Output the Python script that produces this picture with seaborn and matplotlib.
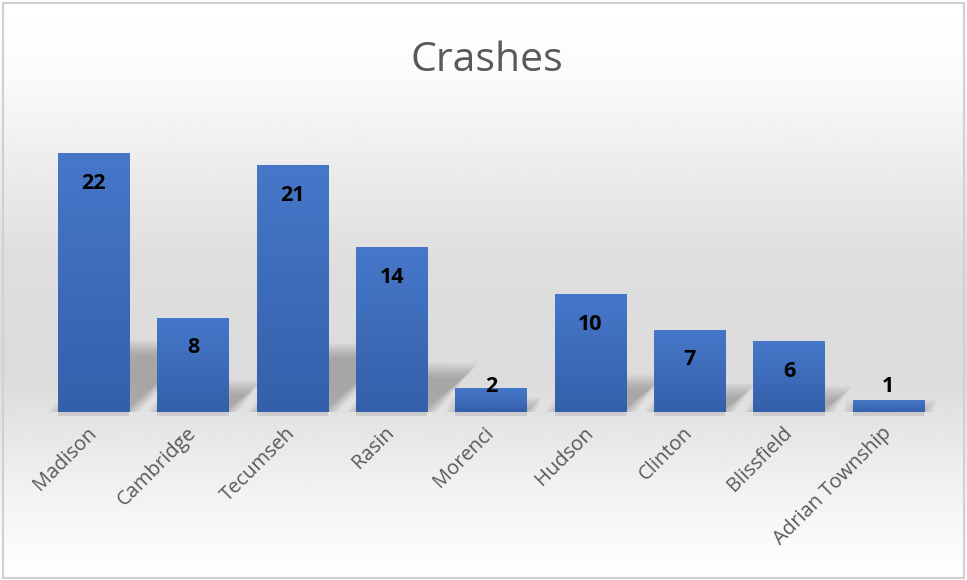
import matplotlib
matplotlib.use("Agg")
import matplotlib.pyplot as plt
import seaborn as sns
import numpy as np
import pandas as pd
from matplotlib.patches import Polygon, Rectangle
from matplotlib.colors import LinearSegmentedColormap

# data
places = ["Madison", "Cambridge", "Tecumseh", "Rasin", "Morenci",
          "Hudson", "Clinton", "Blissfield", "Adrian Township"]
crashes = [22, 8, 21, 14, 2, 10, 7, 6, 1]

sns.set_theme(style="white")
plt.rcParams["font.family"] = ["Open Sans", "DejaVu Sans"]

df = pd.DataFrame({"place": places, "crashes": crashes})

fig = plt.figure(figsize=(9.67, 5.80), dpi=100)

# background gradient (white -> light gray -> white)
bg = fig.add_axes([0, 0, 1, 1], zorder=-10)
yy = np.linspace(0, 1, 300)
shade = np.interp(yy, [0, 0.12, 0.45, 0.65, 0.85, 1.0], [1.0, 0.985, 0.87, 0.86, 0.95, 1.0])
bg_img = np.repeat(shade[:, None], 2, axis=1)
bg.imshow(bg_img, cmap="gray", vmin=0, vmax=1, aspect="auto", extent=[0, 1, 1, 0])
bg.add_patch(Rectangle((0.003, 0.004), 0.994, 0.991, fill=False, edgecolor="#d0d0d0",
                       lw=1.5, transform=bg.transAxes))
bg.set_axis_off()

ax = fig.add_axes([0.0455, 0.2897, 0.9245, 0.5069])
ax.patch.set_alpha(0)
sns.barplot(data=df, x="place", y="crashes", color="#4472c4", width=0.72,
            ax=ax, zorder=3)
ax.set_ylim(0, 25)
ax.set_xlim(-0.5, len(places) - 0.5)

# gradient fill on bars + soft shadows
bar_cmap = LinearSegmentedColormap.from_list("bar", ["#3460ab", "#4677c9"])
grad = np.linspace(0, 1, 100)[:, None]
for bar in ax.patches:
    x0, w, h = bar.get_x(), bar.get_width(), bar.get_height()
    im = ax.imshow(grad, cmap=bar_cmap, aspect="auto", origin="lower",
                   extent=[x0, x0 + w, 0, h], zorder=3)
    im.set_clip_path(bar)
    bar.set_edgecolor("none")
    # shadow: bar skewed up-right at 45 degrees, blurred via layers
    sh = 0.24 * h
    dx = 0.0296 * h
    for k in range(14):
        s = k - 5
        ex = 0.012 * s
        ey = 0.1 * s
        top = max(sh + ey, 0.05)
        poly = Polygon([(x0 - ex, 0), (x0 + w + ex, 0),
                        (x0 + w + dx + ex, top), (x0 + dx - ex, top)],
                       closed=True, facecolor="#606060", alpha=0.035,
                       edgecolor="none", zorder=2)
        ax.add_patch(poly)
    ax.add_patch(Rectangle((x0, -0.35), w, 0.35, facecolor="#b0b0b0",
                           alpha=0.45, edgecolor="none", zorder=2, clip_on=False))

# data labels inside end
for i, v in enumerate(crashes):
    ypos = max(v - 2.55, 2.2)
    ax.text(i, ypos, str(v), ha="center", va="center", fontsize=15.5,
            fontweight="bold", color="black", zorder=5)

ax.set_xlabel("")
ax.set_ylabel("")
ax.set_yticks([])
ax.tick_params(axis="x", length=0, pad=13)
for lab in ax.get_xticklabels():
    lab.set_rotation(45)
    lab.set_ha("right")
    lab.set_va("center")
    lab.set_rotation_mode("anchor")
    lab.set_color("#595959")
    lab.set_fontsize(14.5)
sns.despine(ax=ax, left=True, bottom=True, top=True, right=True)

fig.text(0.5035, 0.895, "Crashes", ha="center", va="center", fontsize=29.5,
         color="#595959")

fig.savefig("out.png", dpi=100)
